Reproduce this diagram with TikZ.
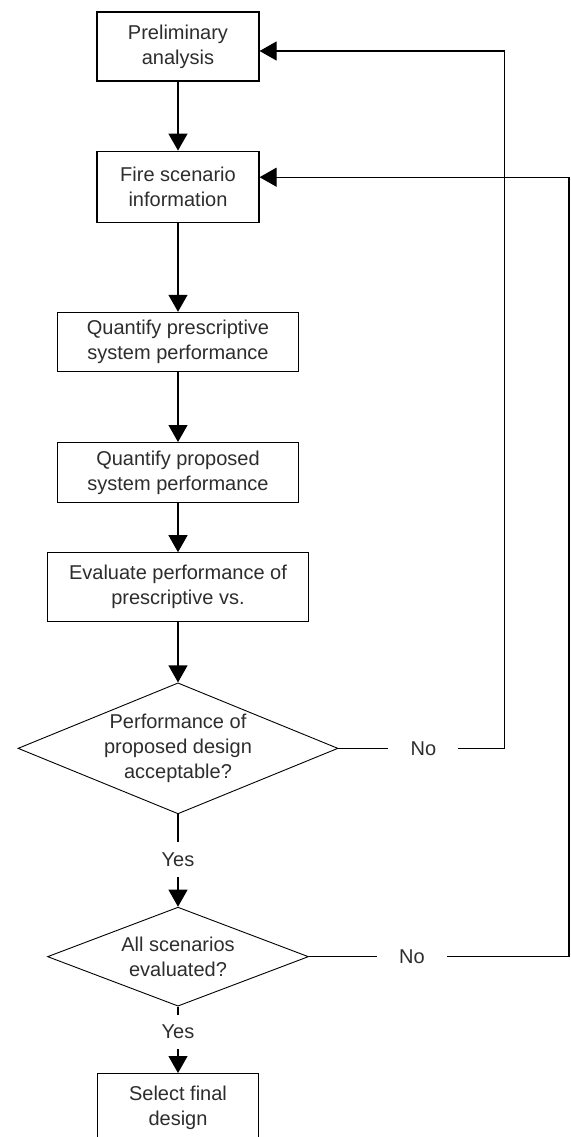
\documentclass[tikz,border=0pt]{standalone}
\usepackage{fontspec}
\setmainfont{Liberation Sans}
\definecolor{FlowText}{RGB}{45, 45, 45}
\usetikzlibrary{shapes.geometric, arrows.meta, positioning}

\begin{document}
\begin{tikzpicture}[x=1pt, y=1pt, node distance=60pt, auto,
        font=\fontsize{20}{25}\selectfont, text=FlowText]
        \tikzstyle{block} = [rectangle, draw, line width=1.2pt, fill=white,
            align=center, inner sep=0pt]
        \tikzstyle{decision} = [diamond, draw, line width=0.9pt, align=center, inner sep=0pt]
        \tikzstyle{answer} = [inner xsep=22pt, inner ysep=0pt, minimum height=34pt]
        \tikzstyle{line} = [draw, line width=1.2pt, -{Triangle[length=17pt, width=19pt]}]
        \tikzstyle{plain} = [draw, line width=1.2pt]

        % page frame
        \clip (0,0) rectangle (570,-1137);

        \node [block, minimum width=162pt, minimum height=69pt] (prelim) at (178,-46.5)
            {Preliminary\\analysis};
        \node [block, minimum width=162pt, minimum height=71pt, below=69pt of prelim] (scen)
            {Fire scenario\\information};
        \node [block, minimum width=241pt, minimum height=59pt, below=89pt of scen] (qpres)
            {Quantify prescriptive\\system performance};
        \node [block, minimum width=241pt, minimum height=60pt, below=70pt of qpres] (qprop)
            {Quantify proposed\\system performance};
        \node [block, minimum width=261pt, minimum height=69pt, below=49pt of qprop] (evalp)
            {Evaluate performance of\\prescriptive vs.};
        \node [decision, aspect=2.44, minimum width=320pt, minimum height=131pt,
            below=60pt of evalp] (accept) {Performance of\\proposed design\\acceptable?};
        \node [answer, below=28pt of accept] (yes1) {Yes};
        \node [decision, aspect=2.64, minimum width=261pt, minimum height=99pt,
            below=30pt of yes1] (allsc) {All scenarios\\evaluated?};
        \node [answer, below=8pt of allsc] (yes2) {Yes};
        \node [block, minimum width=161pt, minimum height=80pt, text depth=15.5pt,
            below=24pt of yes2] (final) {Select final\\design};
        \node [answer, right=50pt of accept] (no1) {No};
        \node [answer, right=68pt of allsc] (no2) {No};

        \path [line] (prelim) -- (scen);
        \path [line] (scen) -- (qpres);
        \path [line] (qpres) -- (qprop);
        \path [line] (qprop) -- (evalp);
        \path [line] (evalp) -- (accept);
        \path [plain] (accept) -- (yes1);
        \path [line] (yes1) -- (allsc);
        \path [plain] (allsc) -- (yes2);
        \path [line] (yes2) -- (final);

        % loops back to the top
        \path [plain] (accept.east) -- (no1.west);
        \path [line] (no1.east) -- ++(46,0) |- ([yshift=-4.5pt]prelim.east);
        \path [plain] (allsc.east) -- (no2.west);
        \path [line] (no2.east) -- ++(122,0) |- ([yshift=9.5pt]scen.east);
    \end{tikzpicture}
\end{document}
